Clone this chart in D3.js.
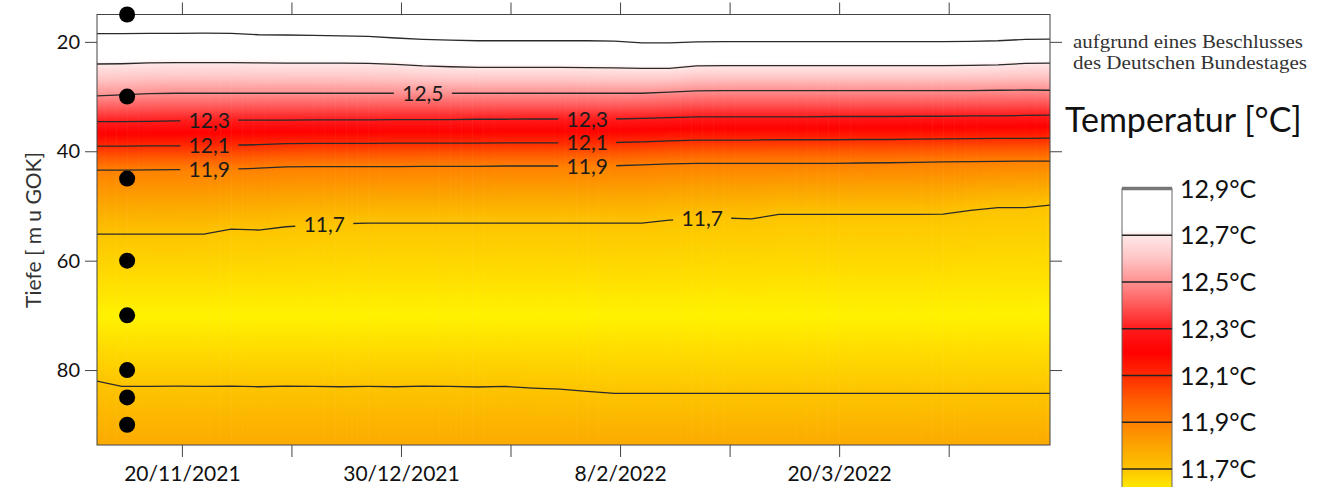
<!DOCTYPE html>
<html>
<head>
<meta charset="utf-8">
<script src="https://cdn.jsdelivr.net/npm/d3@7"></script>
<style>
  body { margin: 0; background: #fff; }
  svg { display: block; font-family: Lato, "Open Sans", sans-serif; }
</style>
</head>
<body>
<script>
// profile dates (every 5 days)
var sampleDates = ["2021-11-04","2021-11-09","2021-11-14","2021-11-19","2021-11-24","2021-11-29",
  "2021-12-04","2021-12-09","2021-12-14","2021-12-19","2021-12-24","2021-12-29",
  "2022-01-03","2022-01-08","2022-01-13","2022-01-18","2022-01-23","2022-01-28",
  "2022-02-02","2022-02-07","2022-02-12","2022-02-17","2022-02-22","2022-02-27",
  "2022-03-04","2022-03-09","2022-03-14","2022-03-19","2022-03-24","2022-03-29",
  "2022-04-03","2022-04-08","2022-04-13","2022-04-18","2022-04-23","2022-04-28"];

// depth [m] of each isotherm at those dates
var c129 = [18.5,18.5,18.45,18.45,18.4,18.45,18.7,18.75,18.8,18.9,19.0,19.3,
  19.55,19.7,19.8,19.8,19.8,19.8,19.8,19.85,20.2,20.2,20.0,19.95,
  19.95,19.95,19.95,19.95,19.95,19.95,19.95,19.95,19.9,19.8,19.55,19.5];
var c127 = [24.05,24.0,23.85,23.8,23.8,23.8,23.85,23.9,23.9,23.9,23.95,24.1,
  24.4,24.55,24.65,24.65,24.65,24.65,24.7,24.75,24.85,24.85,24.4,24.35,
  24.35,24.35,24.35,24.35,24.35,24.35,24.35,24.35,24.3,24.2,23.95,23.9];
var c125 = [29.9,29.7,29.45,29.4,29.4,29.4,29.4,29.4,29.4,29.4,29.4,29.4,
  29.4,29.4,29.4,29.4,29.4,29.4,29.4,29.4,29.4,29.2,28.95,28.9,
  28.9,28.9,28.9,28.9,28.9,28.9,28.9,28.9,28.9,28.85,28.8,28.85];
var c123 = [34.6,34.6,34.55,34.45,34.35,34.3,34.3,34.3,34.25,34.25,34.25,34.2,
  34.2,34.2,34.15,34.15,34.1,34.1,34.1,34.1,34.0,33.85,33.7,33.7,
  33.7,33.7,33.7,33.65,33.65,33.65,33.6,33.6,33.55,33.55,33.45,33.4];
var c121 = [39.05,39.05,39.0,39.0,38.95,38.9,38.8,38.6,38.55,38.55,38.55,38.5,
  38.5,38.5,38.5,38.45,38.45,38.45,38.45,38.4,38.3,38.1,37.95,37.95,
  37.95,37.9,37.9,37.9,37.85,37.85,37.8,37.75,37.7,37.65,37.65,37.6];
var c119 = [43.45,43.45,43.4,43.35,43.3,43.25,43.1,42.85,42.8,42.8,42.8,42.8,
  42.75,42.75,42.75,42.7,42.7,42.7,42.7,42.65,42.5,42.3,42.2,42.2,
  42.2,42.2,42.2,42.2,42.15,42.1,42.05,41.95,41.9,41.85,41.8,41.8];
var c117a = [55.15,55.15,55.15,55.15,55.15,54.25,54.4,53.8,53.5,53.25,53.15,53.15,
  53.15,53.15,53.15,53.15,53.15,53.15,53.15,53.15,53.15,52.6,52.3,52.2,
  52.35,51.55,51.55,51.55,51.55,51.55,51.55,51.5,50.8,50.3,50.3,49.8];
var c117b = [81.9,83.0,83.0,82.95,83.0,82.95,83.05,82.95,83.0,83.05,83.0,83.05,
  82.95,83.0,83.1,83.0,83.3,83.5,83.9,84.25,84.25,84.25,84.25,84.25,
  84.25,84.25,84.25,84.25,84.25,84.25,84.25,84.25,84.25,84.25,84.25,84.25];

var contours = [c129, c127, c125, c123, c121, c119, c117a, c117b];
var levels = [12.9, 12.7, 12.5, 12.3, 12.1, 11.9, 11.7, 11.7];

// profile ends and the cold core
var depthTop = 15, tempTop = 13.0;
var depthBottom = 93.7, tempBottom = 11.78;
var coreDepth = 70, coreTemp = 11.6;

// contour labels: contour index + date
var labels = [
  {c: 2, date: "2022-01-03"},
  {c: 3, date: "2021-11-25"}, {c: 4, date: "2021-11-25"}, {c: 5, date: "2021-11-25"},
  {c: 3, date: "2022-02-02"}, {c: 4, date: "2022-02-02"}, {c: 5, date: "2022-02-02"},
  {c: 6, date: "2021-12-16"}, {c: 6, date: "2022-02-23"}
];

// sensor positions
var sensorDate = "2021-11-10";
var sensorDepths = [15, 30, 45, 60, 70, 80, 85, 90];

var tickDates = ["2021-11-20","2021-12-10","2021-12-30","2022-01-19","2022-02-08",
  "2022-02-28","2022-03-20","2022-04-09"];
var depthTicks = [20, 40, 60, 80];

// colour ramp
var tempStops  = [11.6, 11.65, 11.7, 11.8, 11.9, 12.0, 12.1, 12.2, 12.3, 12.4, 12.5, 12.6, 12.7, 12.72, 13.0];
var colorStops = ["#fff200","#ffda00","#fdc400","#fca400","#ff8000","#ff5a00","#ff2a00","#ff0000",
  "#ff1c1c","#ff5858","#ff9090","#ffc4c4","#ffe8e8","#ffffff","#ffffff"];
var legendTicks = [12.9, 12.7, 12.5, 12.3, 12.1, 11.9, 11.7];

var W = 1324, H = 487;
var parse = d3.utcParse("%Y-%m-%d");
var sampleTimes = sampleDates.map(parse);
var t0 = new Date(Date.UTC(2021, 10, 4, 12)), t1 = new Date(Date.UTC(2022, 3, 27, 12));

var x = d3.scaleUtc().domain([t0, t1]).range([97, 1050]);
var y = d3.scaleLinear().domain([depthTop, depthBottom]).range([14.5, 445]);
var color = d3.scaleLinear().domain(tempStops).range(colorStops).clamp(true);
var comma = function(v) { return d3.format(".1f")(v).replace(".", ","); };

function depthAt(series, t) {
  return d3.scaleLinear().domain(sampleTimes).range(series)(t);
}

var svg = d3.select("body").append("svg").attr("width", W).attr("height", H);
var defs = svg.append("defs");

defs.append("clipPath").attr("id", "plotClip")
  .append("rect")
  .attr("x", x.range()[0]).attr("y", y.range()[0])
  .attr("width", x.range()[1] - x.range()[0]).attr("height", y.range()[1] - y.range()[0]);

// heat map: one column per day, vertical gradient from the profile
var days = d3.utcDay.range(d3.utcDay.floor(t0), t1);
var depthSteps = d3.range(depthTop, depthBottom, 0.5).concat([depthBottom]);
days.forEach(function(day, i) {
  var tm = new Date(+day + 12 * 3600e3);
  var dom = [depthTop];
  contours.slice(0, 7).forEach(function(s) { dom.push(depthAt(s, tm)); });
  dom.push(coreDepth, depthAt(c117b, tm), depthBottom);
  var prof = d3.scaleLinear().domain(dom)
    .range([tempTop].concat(levels.slice(0, 7), [coreTemp, 11.7, tempBottom]));
  var g = defs.append("linearGradient").attr("id", "col" + i)
    .attr("gradientUnits", "userSpaceOnUse")
    .attr("x1", 0).attr("x2", 0).attr("y1", y(depthTop)).attr("y2", y(depthBottom));
  g.selectAll("stop").data(depthSteps).join("stop")
    .attr("offset", function(d) { return (d - depthTop) / (depthBottom - depthTop); })
    .attr("stop-color", function(d) { return color(prof(d)); });
});

var plot = svg.append("g").attr("clip-path", "url(#plotClip)");
plot.selectAll("rect.col").data(days).join("rect")
  .attr("class", "col")
  .attr("x", function(d) { return x(d); })
  .attr("y", y(depthTop))
  .attr("width", function(d) { return x(d3.utcDay.offset(d, 1)) - x(d) + 0.6; })
  .attr("height", y(depthBottom) - y(depthTop))
  .attr("fill", function(d, i) { return "url(#col" + i + ")"; });

// gaps in the isolines for the labels
function labelPos(d) {
  var t = parse(d.date);
  return [x(t), y(depthAt(contours[d.c], t))];
}
var mask = defs.append("mask").attr("id", "gapMask")
  .attr("maskUnits", "userSpaceOnUse")
  .attr("x", 0).attr("y", 0).attr("width", W).attr("height", H);
mask.append("rect").attr("width", W).attr("height", H).attr("fill", "white");
mask.selectAll("rect.gap").data(labels).join("rect")
  .attr("class", "gap")
  .attr("x", function(d) { return labelPos(d)[0] - 29; })
  .attr("y", function(d) { return labelPos(d)[1] - 7; })
  .attr("width", 58).attr("height", 14)
  .attr("fill", "black");

var line = d3.line()
  .x(function(d, i) { return x(sampleTimes[i]); })
  .y(function(d) { return y(d); });

plot.append("g").attr("mask", "url(#gapMask)")
  .selectAll("path").data(contours).join("path")
  .attr("d", line)
  .attr("fill", "none")
  .attr("stroke", "#2a2a2a")
  .attr("stroke-width", 1.3);

plot.selectAll("text.clab").data(labels).join("text")
  .attr("class", "clab")
  .attr("x", function(d) { return labelPos(d)[0]; })
  .attr("y", function(d) { return labelPos(d)[1]; })
  .attr("dy", "0.36em")
  .attr("text-anchor", "middle")
  .style("font-size", "21px")
  .style("fill", "#1a1a1a")
  .text(function(d) { return comma(levels[d.c]); });

// frame + axes
svg.append("rect")
  .attr("x", x.range()[0]).attr("y", y.range()[0])
  .attr("width", x.range()[1] - x.range()[0]).attr("height", y.range()[1] - y.range()[0])
  .attr("fill", "none").attr("stroke", "#444").attr("stroke-width", 1);

var tickTimes = tickDates.map(parse);
var fmt = d3.utcFormat("%-d/%-m/%Y");

function styleAxis(g, size) {
  g.select(".domain").remove();
  g.selectAll(".tick line").attr("stroke", "#444");
  g.selectAll(".tick text").style("font-size", size).style("fill", "#111")
    .style("font-family", "Lato, 'Open Sans', sans-serif");
}

svg.append("g").attr("transform", "translate(0," + y.range()[1] + ")")
  .call(d3.axisBottom(x).tickValues(tickTimes).tickSize(12).tickPadding(9)
    .tickFormat(function(d, i) { return i % 2 === 0 ? fmt(d) : ""; }))
  .call(styleAxis, "21px");

svg.append("g").attr("transform", "translate(0," + y.range()[0] + ")")
  .call(d3.axisTop(x).tickValues(tickTimes).tickSize(12).tickFormat(""))
  .call(styleAxis, "21px");

svg.append("g").attr("transform", "translate(" + x.range()[0] + ",0)")
  .call(d3.axisLeft(y).tickValues(depthTicks).tickSize(12).tickPadding(5))
  .call(styleAxis, "20px");

svg.append("g").attr("transform", "translate(" + x.range()[1] + ",0)")
  .call(d3.axisRight(y).tickValues(depthTicks).tickSize(12).tickFormat(""))
  .call(styleAxis, "20px");

svg.append("text")
  .attr("transform", "translate(41,230) rotate(-90)")
  .attr("text-anchor", "middle")
  .style("font-size", "21px")
  .style("fill", "#333")
  .text("Tiefe [ m u GOK]");

// sensors
svg.append("g").selectAll("circle").data(sensorDepths).join("circle")
  .attr("cx", x(parse(sensorDate)))
  .attr("cy", function(d) { return y(d); })
  .attr("r", 8)
  .attr("fill", "#000");

// right side text
svg.append("text").attr("x", 1073).attr("y", 47.5)
  .attr("textLength", 230).attr("lengthAdjust", "spacingAndGlyphs")
  .style("font-family", "'Liberation Serif', 'DejaVu Serif', serif")
  .style("font-size", "18px").style("fill", "#333")
  .text("aufgrund eines Beschlusses");
svg.append("text").attr("x", 1073).attr("y", 68.5)
  .attr("textLength", 234).attr("lengthAdjust", "spacingAndGlyphs")
  .style("font-family", "'Liberation Serif', 'DejaVu Serif', serif")
  .style("font-size", "18px").style("fill", "#333")
  .text("des Deutschen Bundestages");

svg.append("text").attr("x", 1065).attr("y", 132)
  .style("font-size", "34px").style("fill", "#111")
  .text("Temperatur [°C]");

// colour legend
var ly = d3.scaleLinear().domain([12.9, 11.6]).range([188.5, 492.4]);
var lg = defs.append("linearGradient").attr("id", "legendGrad")
  .attr("gradientUnits", "userSpaceOnUse")
  .attr("x1", 0).attr("x2", 0).attr("y1", ly(12.9)).attr("y2", ly(11.6));
lg.selectAll("stop").data(d3.range(0, 131)).join("stop")
  .attr("offset", function(d) { return d / 130; })
  .attr("stop-color", function(d) { return color(12.9 - d / 100); });

var legend = svg.append("g");
legend.append("rect")
  .attr("x", 1122).attr("y", ly(12.9)).attr("width", 50).attr("height", ly(11.6) - ly(12.9))
  .attr("fill", "url(#legendGrad)")
  .attr("stroke", "#666").attr("stroke-width", 1);
legend.selectAll("line").data(legendTicks).join("line")
  .attr("x1", 1122).attr("x2", 1172)
  .attr("y1", function(d) { return ly(d); }).attr("y2", function(d) { return ly(d); })
  .attr("stroke", function(d, i) { return i === 0 ? "#777" : "#222"; })
  .attr("stroke-width", function(d, i) { return i === 0 ? 3.5 : 1.5; });
legend.selectAll("text").data(legendTicks).join("text")
  .attr("x", 1180)
  .attr("y", function(d) { return ly(d); })
  .attr("dy", "0.36em")
  .style("font-size", "25px").style("fill", "#111")
  .text(function(d) { return comma(d) + "°C"; });
</script>
</body>
</html>
